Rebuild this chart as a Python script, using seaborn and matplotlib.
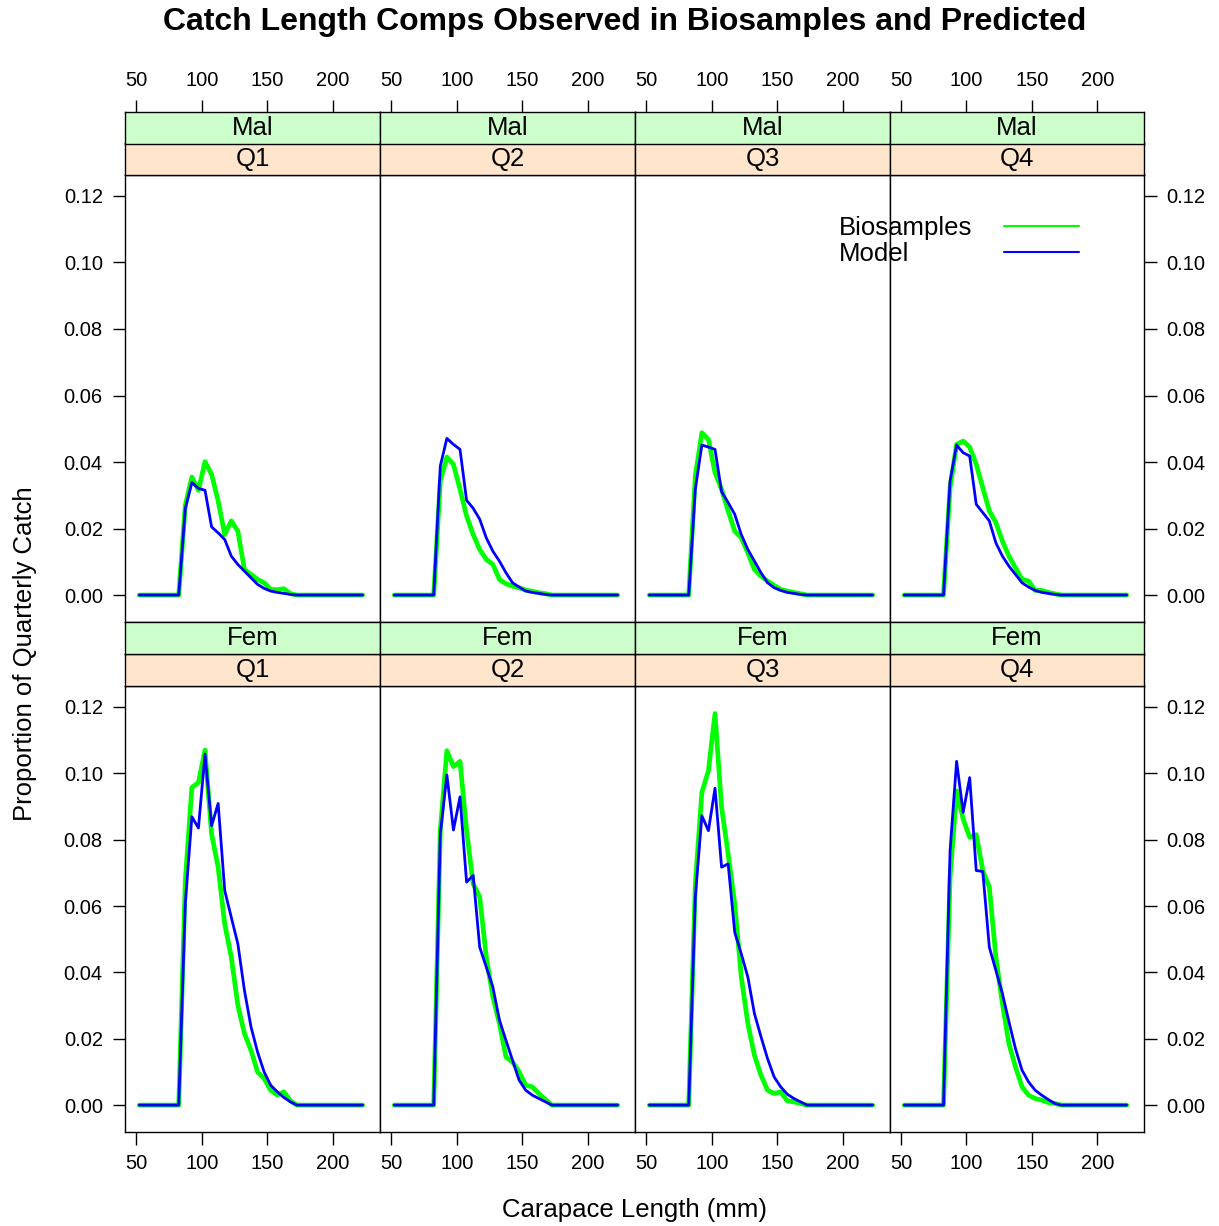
import matplotlib
matplotlib.use("Agg")
import matplotlib.pyplot as plt
from matplotlib.lines import Line2D
import pandas as pd
import seaborn as sns

# carapace length bins (mm)
lengths = [52.5, 57.5, 62.5, 67.5, 72.5, 77.5, 82.5, 87.5, 92.5, 97.5,
           102.5, 107.5, 112.5, 117.5, 122.5, 127.5, 132.5, 137.5, 142.5, 147.5,
           152.5, 157.5, 162.5, 167.5, 172.5, 177.5, 182.5, 187.5, 192.5, 197.5,
           202.5, 207.5, 212.5, 217.5, 222.5]

sexes = ["Mal", "Fem"]
quarters = ["Q1", "Q2", "Q3", "Q4"]

# observed (biosamples) proportions
bio_mal_q1 = [0, 0, 0, 0, 0, 0, 0, 0.027, 0.0355, 0.0315, 0.0401, 0.0363, 0.0283, 0.0182, 0.0223, 0.0192,
              0.0077, 0.0062, 0.0047, 0.0037, 0.0017, 0.0016, 0.0019, 0.0004, 0, 0, 0, 0, 0, 0, 0, 0, 0, 0, 0]
bio_mal_q2 = [0, 0, 0, 0, 0, 0, 0, 0.0343, 0.0415, 0.0393, 0.0318, 0.0238, 0.0182, 0.0137, 0.0107, 0.0092,
              0.0047, 0.0034, 0.0027, 0.0022, 0.0015, 0.0011, 0.0007, 0.0004, 0, 0, 0, 0, 0, 0, 0, 0, 0, 0, 0]
bio_mal_q3 = [0, 0, 0, 0, 0, 0, 0, 0.0358, 0.0488, 0.0468, 0.0368, 0.0318, 0.0253, 0.0192, 0.0172, 0.0127,
              0.0077, 0.0057, 0.0042, 0.0029, 0.0017, 0.0012, 0.0008, 0.0004, 0, 0, 0, 0, 0, 0, 0, 0, 0, 0, 0]
bio_mal_q4 = [0, 0, 0, 0, 0, 0, 0, 0.0323, 0.0453, 0.0463, 0.0445, 0.0393, 0.0323, 0.0253, 0.0218, 0.0162,
              0.0117, 0.0082, 0.0047, 0.0042, 0.0014, 0.0014, 0.0008, 0.0004, 0, 0, 0, 0, 0, 0, 0, 0, 0, 0, 0]
bio_fem_q1 = [0, 0, 0, 0, 0, 0, 0, 0.0677, 0.0957, 0.0972, 0.1070, 0.0817, 0.0717, 0.0546, 0.0446, 0.0301,
              0.0216, 0.0165, 0.0100, 0.0080, 0.0045, 0.0030, 0.0040, 0.0013, 0, 0, 0, 0, 0, 0, 0, 0, 0, 0, 0]
bio_fem_q2 = [0, 0, 0, 0, 0, 0, 0, 0.0827, 0.1068, 0.1020, 0.1036, 0.0827, 0.0667, 0.0627, 0.0446, 0.0326,
              0.0246, 0.0145, 0.0130, 0.0100, 0.0060, 0.0055, 0.0035, 0.0017, 0, 0, 0, 0, 0, 0, 0, 0, 0, 0, 0]
bio_fem_q3 = [0, 0, 0, 0, 0, 0, 0, 0.0667, 0.0942, 0.1008, 0.1180, 0.0897, 0.0757, 0.0607, 0.0386, 0.0246,
              0.0150, 0.0090, 0.0045, 0.0035, 0.0040, 0.0013, 0.0010, 0.0005, 0, 0, 0, 0, 0, 0, 0, 0, 0, 0, 0]
bio_fem_q4 = [0, 0, 0, 0, 0, 0, 0, 0.0687, 0.0947, 0.0862, 0.0807, 0.0815, 0.0707, 0.0657, 0.0446, 0.0306,
              0.0185, 0.0115, 0.0055, 0.0030, 0.0020, 0.0015, 0.0008, 0.0005, 0, 0, 0, 0, 0, 0, 0, 0, 0, 0, 0]

# predicted (model) proportions
mod_mal_q1 = [0, 0, 0, 0, 0, 0, 0, 0.026, 0.0338, 0.0321, 0.0315, 0.0205, 0.0187, 0.0167, 0.0117, 0.0092,
              0.0072, 0.0052, 0.0032, 0.0020, 0.0012, 0.0008, 0.0005, 0.0002, 0, 0, 0, 0, 0, 0, 0, 0, 0, 0, 0]
mod_mal_q2 = [0, 0, 0, 0, 0, 0, 0, 0.0388, 0.0471, 0.0453, 0.0438, 0.0285, 0.0261, 0.0228, 0.0172, 0.0132,
              0.0102, 0.0067, 0.0037, 0.0024, 0.0012, 0.0008, 0.0005, 0.0002, 0, 0, 0, 0, 0, 0, 0, 0, 0, 0, 0]
mod_mal_q3 = [0, 0, 0, 0, 0, 0, 0, 0.0318, 0.0451, 0.0445, 0.0438, 0.0311, 0.0278, 0.0243, 0.0182, 0.0137,
              0.0102, 0.0067, 0.0037, 0.0022, 0.0014, 0.0008, 0.0005, 0.0002, 0, 0, 0, 0, 0, 0, 0, 0, 0, 0, 0]
mod_mal_q4 = [0, 0, 0, 0, 0, 0, 0, 0.0343, 0.0451, 0.0428, 0.0418, 0.0273, 0.0248, 0.0223, 0.0157, 0.0117,
              0.0087, 0.0062, 0.0037, 0.0024, 0.0014, 0.0008, 0.0005, 0.0002, 0, 0, 0, 0, 0, 0, 0, 0, 0, 0, 0]
mod_fem_q1 = [0, 0, 0, 0, 0, 0, 0, 0.0607, 0.0869, 0.0835, 0.1058, 0.0842, 0.0909, 0.0647, 0.0566, 0.0486,
              0.0346, 0.0236, 0.0160, 0.0100, 0.0060, 0.0040, 0.0023, 0.0010, 0, 0, 0, 0, 0, 0, 0, 0, 0, 0, 0]
mod_fem_q2 = [0, 0, 0, 0, 0, 0, 0, 0.0817, 0.0995, 0.0829, 0.0929, 0.0672, 0.0692, 0.0476, 0.0416, 0.0356,
              0.0256, 0.0195, 0.0135, 0.0075, 0.0045, 0.0030, 0.0020, 0.0010, 0, 0, 0, 0, 0, 0, 0, 0, 0, 0, 0]
mod_fem_q3 = [0, 0, 0, 0, 0, 0, 0, 0.0627, 0.0872, 0.0827, 0.0955, 0.0717, 0.0727, 0.0521, 0.0456, 0.0386,
              0.0276, 0.0206, 0.0140, 0.0085, 0.0055, 0.0033, 0.0020, 0.0010, 0, 0, 0, 0, 0, 0, 0, 0, 0, 0, 0]
mod_fem_q4 = [0, 0, 0, 0, 0, 0, 0, 0.0767, 0.1036, 0.0882, 0.0987, 0.0707, 0.0704, 0.0476, 0.0406, 0.0336,
              0.0251, 0.0170, 0.0105, 0.0070, 0.0045, 0.0030, 0.0017, 0.0005, 0, 0, 0, 0, 0, 0, 0, 0, 0, 0, 0]

bio = {("Mal", "Q1"): bio_mal_q1, ("Mal", "Q2"): bio_mal_q2, ("Mal", "Q3"): bio_mal_q3, ("Mal", "Q4"): bio_mal_q4,
       ("Fem", "Q1"): bio_fem_q1, ("Fem", "Q2"): bio_fem_q2, ("Fem", "Q3"): bio_fem_q3, ("Fem", "Q4"): bio_fem_q4}
mod = {("Mal", "Q1"): mod_mal_q1, ("Mal", "Q2"): mod_mal_q2, ("Mal", "Q3"): mod_mal_q3, ("Mal", "Q4"): mod_mal_q4,
       ("Fem", "Q1"): mod_fem_q1, ("Fem", "Q2"): mod_fem_q2, ("Fem", "Q3"): mod_fem_q3, ("Fem", "Q4"): mod_fem_q4}

y_ticks = [0.00, 0.02, 0.04, 0.06, 0.08, 0.10, 0.12]
x_ticks = [50, 100, 150, 200]

# long table for seaborn
rows = []
for key in bio:
    for src, table in (("Biosamples", bio), ("Model", mod)):
        for L, p in zip(lengths, table[key]):
            rows.append({"Sex": key[0], "Quarter": key[1], "Length": L, "Prop": p, "Source": src})
df = pd.DataFrame(rows)

sns.set_style("white")
plt.rcParams["font.family"] = ["Liberation Sans", "DejaVu Sans"]
plt.rcParams["lines.solid_capstyle"] = "round"
plt.rcParams["lines.solid_joinstyle"] = "round"
plt.rcParams.update({"text.color": "black", "axes.labelcolor": "black",
                     "xtick.color": "black", "ytick.color": "black"})

W, H = 1219, 1226
fig = plt.figure(figsize=(W / 100, H / 100), dpi=100)


def px_axes(x0, y0, x1, y1):
    return fig.add_axes([x0 / W, 1 - y1 / H, (x1 - x0) / W, (y1 - y0) / H])


col_edges = [125, 380, 635, 890, 1144]
outer_top = [112, 622]
inner_top = [143, 654]
plot_top = [175, 686]
plot_bot = [622, 1132]
xlim = (41.6, 235.7)
ylim = (-0.0081, 0.1263)
palette = {"Biosamples": "#00FF00", "Model": "#0000FF"}
widths = {"Biosamples": 3.4, "Model": 2.0}
tick_kw = dict(direction="out", length=9, width=1, labelsize=14.5, colors="black")

for r, sex in enumerate(sexes):
    for c, q in enumerate(quarters):
        x0, x1 = col_edges[c], col_edges[c + 1]
        ax = px_axes(x0, plot_top[r], x1, plot_bot[r])
        sub = df[(df["Sex"] == sex) & (df["Quarter"] == q)]
        sns.lineplot(data=sub, x="Length", y="Prop", hue="Source", size="Source",
                     hue_order=["Biosamples", "Model"], palette=palette, sizes=widths,
                     estimator=None, sort=False, legend=False, ax=ax)
        ax.set_xlim(*xlim)
        ax.set_ylim(*ylim)
        ax.set_xlabel("")
        ax.set_ylabel("")
        for s in ax.spines.values():
            s.set_color("black")
            s.set_linewidth(1.0)
        ax.set_yticks(y_ticks)
        ax.set_yticklabels([f"{v:.2f}" for v in y_ticks])
        ax.set_xticks(x_ticks)
        ax.tick_params(axis="both", **tick_kw)
        ax.tick_params(axis="x", pad=7, top=False, labeltop=False,
                       bottom=(r == 1), labelbottom=(r == 1))
        ax.tick_params(axis="y", pad=7, left=(c == 0), labelleft=(c == 0),
                       right=(c == 3), labelright=(c == 3))

        # strips: quarter next to the panel, sex above it
        for top, label, color in ((inner_top[r], q, "#FFE5CC"), (outer_top[r], sex, "#CCFFCC")):
            bottom = top + 32 if top in outer_top else plot_top[r]
            sax = px_axes(x0, top, x1, bottom)
            sax.set_facecolor(color)
            sax.set_xlim(*xlim)
            sax.set_yticks([])
            for s in sax.spines.values():
                s.set_color("black")
                s.set_linewidth(1.0)
            sax.text(0.5, 0.5, label, transform=sax.transAxes, ha="center", va="center",
                     fontsize=18.5)
            if r == 0 and top == outer_top[0]:
                sax.set_xticks(x_ticks)
                sax.tick_params(axis="x", **tick_kw)
                sax.tick_params(axis="x", pad=7, top=True, labeltop=True,
                                bottom=False, labelbottom=False)
            else:
                sax.set_xticks([])

# key, drawn as in lattice: labels left, lines right
for label, ypx, color in (("Biosamples", 235, "#00FF00"), ("Model", 261, "#0000FF")):
    fig.text(839 / W, 1 - ypx / H, label, fontsize=18.5, ha="left", va="baseline")
    fig.add_artist(Line2D([1004 / W, 1079 / W], [1 - (ypx - 9) / H, 1 - (ypx - 9) / H],
                          color=color, lw=1.5, transform=fig.transFigure))

fig.text(625 / W, 1 - 22 / H, "Catch Length Comps Observed in Biosamples and Predicted",
         fontsize=23, fontweight="bold", ha="center", va="center")
fig.text(634 / W, 1 - 1210 / H, "Carapace Length (mm)", fontsize=18.5, ha="center", va="center")
fig.text(25 / W, 1 - 654 / H, "Proportion of Quarterly Catch", fontsize=18.5,
         rotation=90, ha="center", va="center")

fig.savefig("out.png", dpi=100)
